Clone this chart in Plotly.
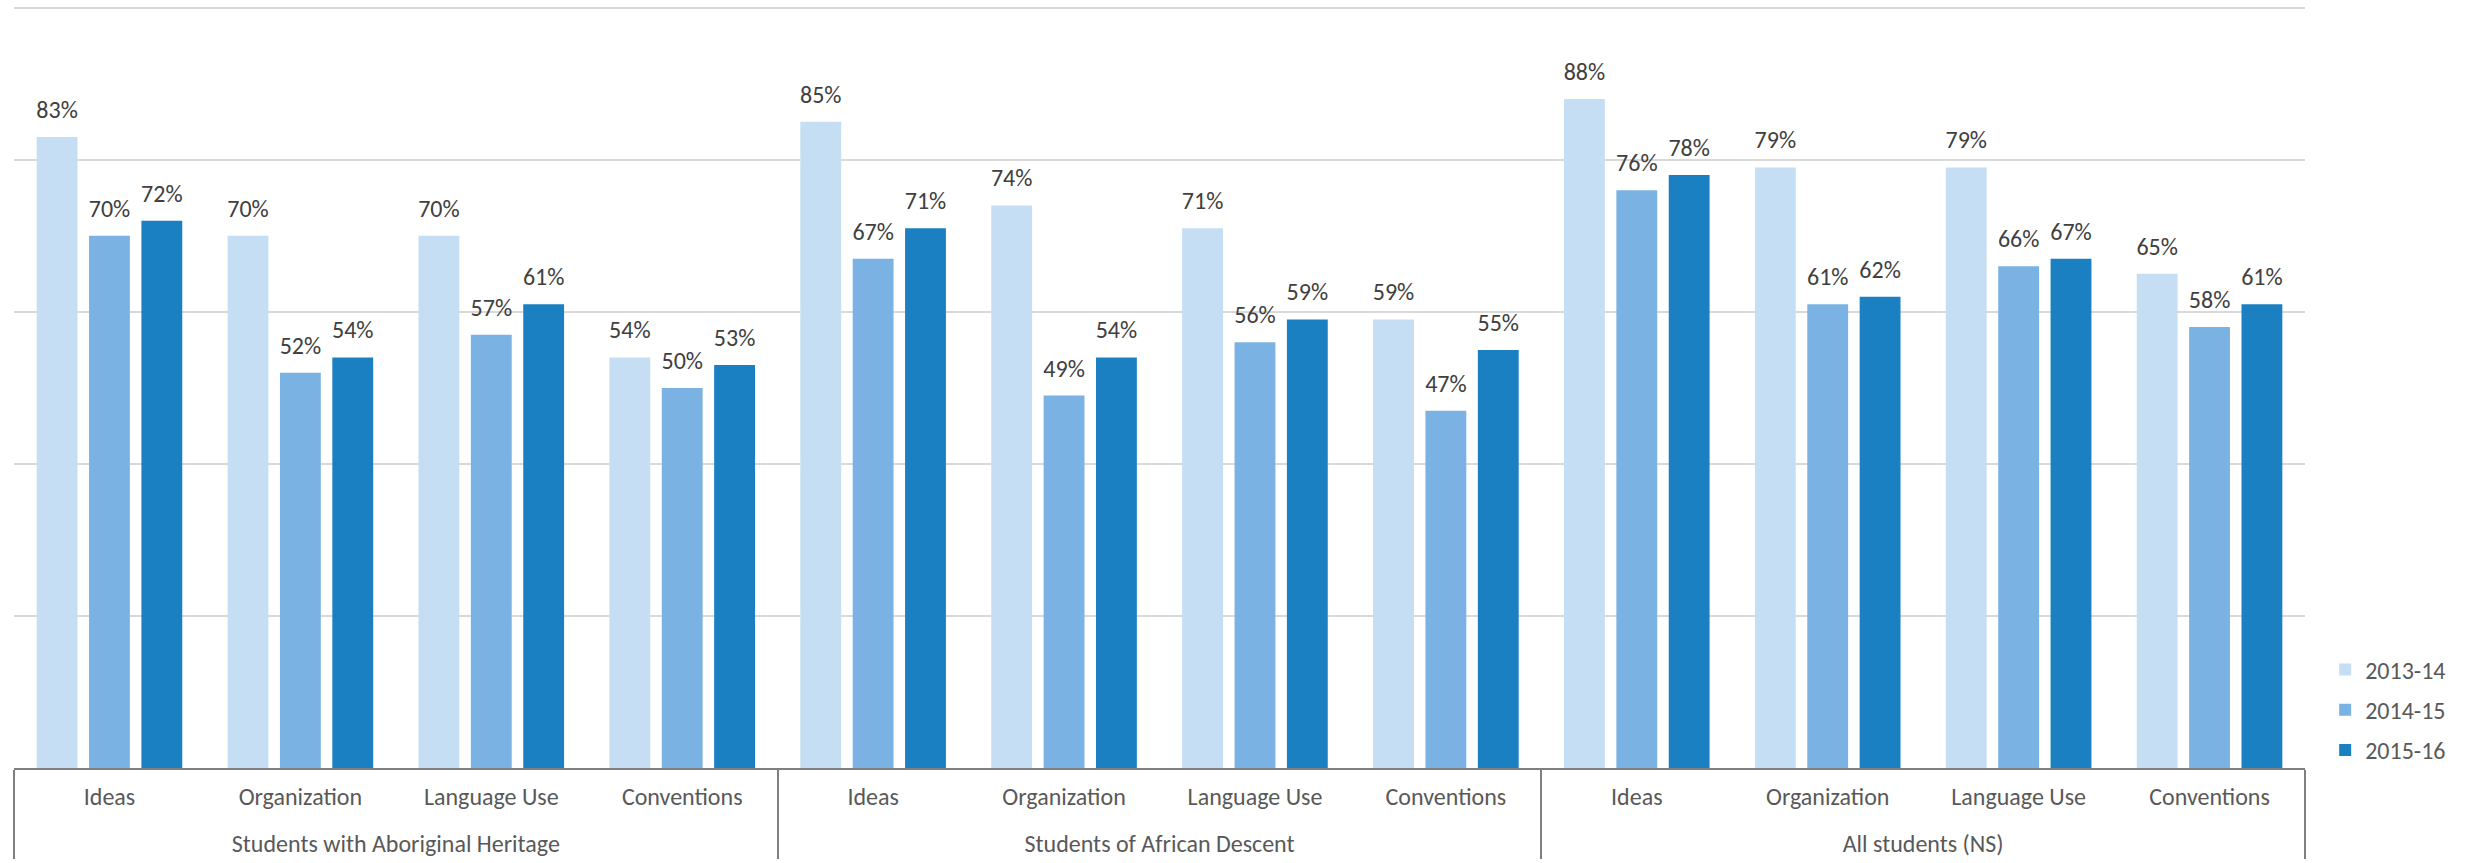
import plotly.graph_objects as go

groups = ["Students with Aboriginal Heritage", "Students of African Descent", "All students (NS)"]
skills = ["Ideas", "Organization", "Language Use", "Conventions"]
years = ["2013-14", "2014-15", "2015-16"]

# values (%) per year, ordered group by group, skill by skill
v_2013_14 = [83, 70, 70, 54, 85, 74, 71, 59, 88, 79, 79, 65]
v_2014_15 = [70, 52, 57, 50, 67, 49, 56, 47, 76, 61, 66, 58]
v_2015_16 = [72, 54, 61, 53, 71, 54, 59, 55, 78, 62, 67, 61]

series = [v_2013_14, v_2014_15, v_2015_16]
colors = ["#c5def3", "#7ab3e3", "#1b80c2"]

# category labels (inner row carries invisible spacer lines to place the two label rows)
SPACER = "<span style='font-size:14px;color:rgba(0,0,0,0)'>.</span>"
inner_labels = [f"<span style='font-size:24px'>{s}</span><br>{SPACER}<br>{SPACER}" for s in skills]
outer_labels = [f"<span style='font-size:24px'>{g}</span>" for g in groups]

x_outer = [g for g in outer_labels for _ in skills]
x_inner = [s for _ in groups for s in inner_labels]

FONT = "Carlito, 'Liberation Sans Narrow', Calibri, Roboto, sans-serif"

fig = go.Figure()
for name, vals, col in zip(years, series, colors):
    fig.add_trace(go.Bar(
        name=name,
        legendgroup=name,
        x=[x_outer, x_inner],
        y=vals,
        marker=dict(color=col, line=dict(width=0)),
        text=[f"<span style='font-size:24px'>{v}%</span><br><span style='color:rgba(0,0,0,0)'>.</span>" for v in vals],
        textposition="outside",
        textfont=dict(family=FONT, size=10, color="#404040"),
        constraintext="none",
        cliponaxis=False,
        hoverinfo="skip",
    ))

fig.update_layout(
    width=2473, height=863,
    margin=dict(l=14, r=168, t=4, b=95, pad=0),
    paper_bgcolor="white", plot_bgcolor="white",
    barmode="group", bargap=0.177, bargroupgap=0.22,
    font=dict(family=FONT, color="#595959", size=24),
    showlegend=True,
    legend=dict(x=1.0088, xanchor="left", y=0.076, yanchor="middle",
                font=dict(family=FONT, size=24, color="#595959"),
                tracegroupgap=6, bgcolor="rgba(0,0,0,0)"),
)
fig.update_xaxes(
    type="multicategory", showdividers=True, dividercolor="#7f7f7f", dividerwidth=2,
    showline=True, linecolor="#7f7f7f", linewidth=2,
    ticks="", showgrid=False, ticklabelstandoff=18,
    tickfont=dict(family=FONT, size=14, color="#595959"),
)
fig.update_yaxes(
    range=[0, 100.5], dtick=20, showgrid=True, gridcolor="#d9d9d9", gridwidth=2,
    showticklabels=False, zeroline=False, showline=False, ticks="",
)

fig.write_html("out.html", config={"displayModeBar": False, "responsive": False},
               post_script="document.body.style.margin='0';")
